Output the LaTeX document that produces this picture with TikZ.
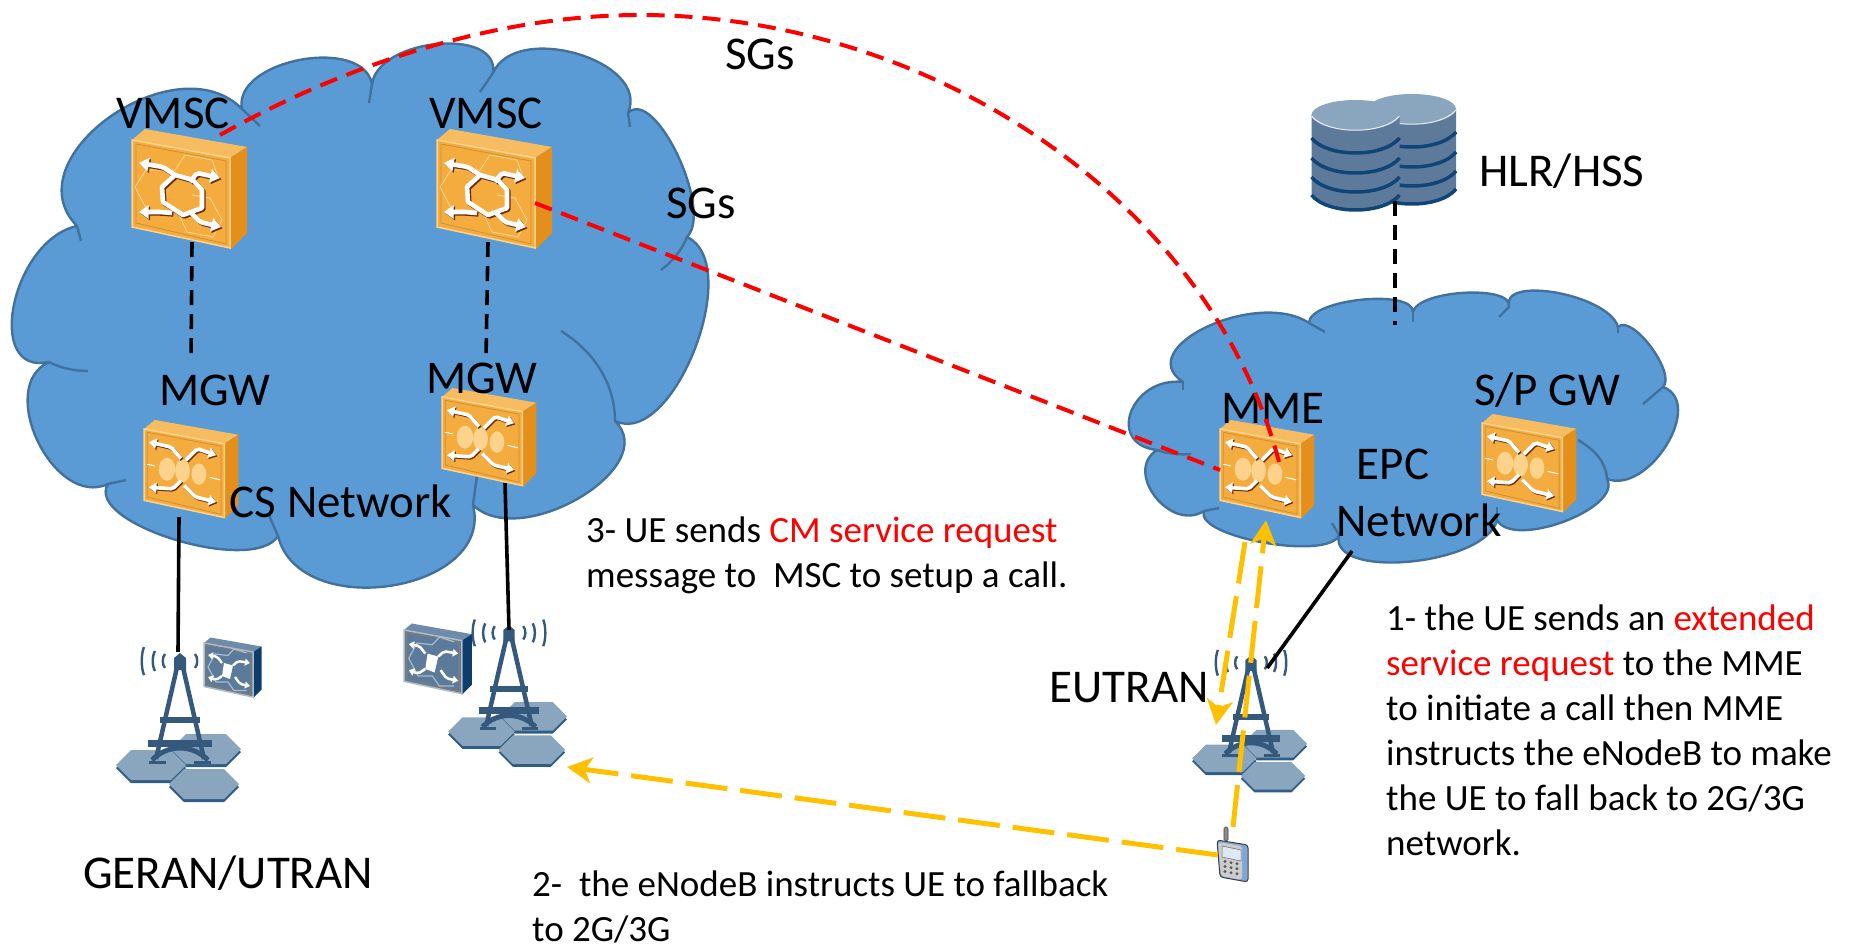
\documentclass[tikz,border=0pt]{standalone}
\usepackage{fontspec}
\setmainfont{Carlito}
\usetikzlibrary{arrows.meta,calc}

\definecolor{cloudfill}{HTML}{5B9BD5}
\definecolor{cloudline}{HTML}{41719C}
\definecolor{swfront}{HTML}{F5AC3F}
\definecolor{swtop}{HTML}{F8BC60}
\definecolor{swside}{HTML}{E48F1C}
\definecolor{swrim}{HTML}{FBD38D}
\definecolor{swframe}{HTML}{B97A2A}
\definecolor{swshadow}{HTML}{6B2A0C}
\definecolor{bluefront}{HTML}{5C7A99}
\definecolor{bluetop}{HTML}{6F8BA8}
\definecolor{blueside}{HTML}{0F3D6B}
\definecolor{bluerim}{HTML}{A9BCD0}
\definecolor{towerblue}{HTML}{34597D}
\definecolor{hexfill}{HTML}{8AA6BF}
\definecolor{hexedge}{HTML}{2F5C88}
\definecolor{dbside}{HTML}{5E7A9A}
\definecolor{dbband}{HTML}{0F4677}
\definecolor{linkyellow}{HTML}{FFC000}
\definecolor{phoneblue}{HTML}{7FA6D6}

\newcommand{\bump}[3]{.. controls ($(#1)+1.333*(#2)-0.667*(#1)-0.667*(#3)$) and ($(#3)+1.333*(#2)-0.667*(#1)-0.667*(#3)$) .. (#3)}

\newcommand{\swbody}[4]{
	\fill[#2] (0,0) -- (13,-11) -- (115,7) -- (98,18) -- cycle;
	\fill[#3] (98,18) -- (115,7) -- (115,93) -- (98,110) -- cycle;
	\fill[#1,draw=#4,line width=1.5pt] (0,0) -- (98,18) -- (98,108) -- (0,87) -- cycle;
	\draw[swframe!60!#1,line width=0.8pt] (4,4) -- (94,21) -- (94,104) -- (4,83) -- cycle;
}

\tikzset{
	sw_arrow/.style={-{Triangle[length=0pt 2.1,width=0pt 2.9]},rounded corners=2pt},
	vmsc_icon/.pic={
		\swbody{swfront}{swtop}{swside}{swrim}
		\draw[swrim,line width=0.9pt] (3,47) -- (14,30) -- (43,30) -- (53,15) -- (80,20) -- (86,37);
		\draw[swrim,line width=0.9pt] (3,47) -- (15,70) -- (30,70);
		\draw[swrim,line width=0.9pt] (48,77) -- (55,92) -- (81,97) -- (90,80) -- (78,58) -- (60,55);
		\foreach \col/\off in {swshadow/1.4,white/0} {
			\draw[\col,line join=round,shift={(\off,\off)}] (30,47) -- (43,35) -- (61,40) -- (70,50) -- (70,68) -- (51,75) -- (31,62) -- cycle;
			\draw[\col,sw_arrow,shift={(\off,\off)}] (43,35) -- (31,27) -- (7,23);
			\draw[\col,sw_arrow,shift={(\off,\off)}] (58,42) -- (65,33) -- (88,38);
			\draw[\col,sw_arrow,shift={(\off,\off)}] (40,73) -- (28,72) -- (7,72);
			\draw[\col,sw_arrow,shift={(\off,\off)}] (58,72) -- (68,82) -- (89,87);
		}
	},
	mgw_icon/.pic={
		\swbody{swfront}{swtop}{swside}{swrim}
		\fill[swrim] (28,49) ellipse [x radius=10,y radius=14];
		\fill[swrim] (47,51) ellipse [x radius=9,y radius=14];
		\fill[swrim] (67,55) ellipse [x radius=9,y radius=13];
		\foreach \col/\off in {swshadow/1.4,white/0} {
			\draw[\col,sw_arrow,shift={(\off,\off)}] (45,36) -- (33,22) -- (6,16);
			\draw[\col,sw_arrow,shift={(\off,\off)}] (51,38) -- (65,24) -- (88,32);
			\draw[\col,sw_arrow,shift={(\off,\off)}] (45,63) -- (35,73) -- (6,71);
			\draw[\col,sw_arrow,shift={(\off,\off)}] (49,69) -- (63,83) -- (88,89);
		}
		\draw[white,line width=1pt] (4,43) -- (13,45);
		\draw[white,line width=1pt] (80,59) -- (93,62);
	},
	blue_icon/.pic={
		\swbody{bluefront}{bluetop}{blueside}{bluerim}
		\draw[bluerim,line width=1.2pt] (8,48) -- (22,22) -- (48,25) -- (60,12) -- (85,20);
		\draw[bluerim,line width=1.2pt] (8,48) -- (24,78) -- (48,78) -- (60,95) -- (85,95);
		\fill[white] (40,40) -- (58,45) -- (52,72) -- (36,66) -- cycle;
		\draw[white,sw_arrow] (36,40) -- (26,27) -- (8,24);
		\draw[white,sw_arrow] (58,45) -- (68,36) -- (92,40);
		\draw[white,sw_arrow] (36,66) -- (24,74) -- (8,68);
		\draw[white,sw_arrow] (62,68) -- (72,82) -- (92,86);
	},
	tower_icon/.pic={
		\foreach \hx/\hy in {26/91,-29/107,24/126} {
			\fill[hexedge,shift={(\hx,\hy+3)}] (-35,0) -- (-20,-15) -- (20,-15) -- (35,0) -- (20,15) -- (-20,15) -- cycle;
			\fill[hexfill,shift={(\hx,\hy)}] (-35,0) -- (-20,-15) -- (20,-15) -- (35,0) -- (20,15) -- (-20,15) -- cycle;
		}
		\foreach \ax/\ah in {15/7,25/10,36/14} {
			\draw[towerblue,line width=2.4pt] (-\ax,3-\ah) .. controls (-\ax-3,3-\ah/2) and (-\ax-3,3+\ah/2) .. (-\ax,3+\ah);
			\draw[towerblue,line width=2.4pt] (\ax,3-\ah) .. controls (\ax+3,3-\ah/2) and (\ax+3,3+\ah/2) .. (\ax,3+\ah);
		}
		\fill[towerblue] (-6,0) -- (0,-5) -- (6,0) -- (6,12) -- (-6,12) -- cycle;
		\draw[towerblue,line width=4.5pt] (-2,5) -- (-24,101);
		\draw[towerblue,line width=4.5pt] (2,5) -- (24,101);
		\draw[towerblue,line width=6pt] (-20,62) -- (20,62);
		\draw[towerblue,line width=7pt] (-32,85) -- (32,85);
		\draw[towerblue,line width=5pt] (-28,102) .. controls (-12,86) and (12,86) .. (28,102);
		\draw[towerblue,line width=3pt] (-31,104) -- (-14,104);
		\draw[towerblue,line width=3pt] (14,104) -- (31,104);
	},
	db_icon/.pic={
		\fill[dbside] (-44,0) -- (-44,80) .. controls (-28,100) and (28,100) .. (44,80) -- (44,0) -- cycle;
		\foreach \s in {23,43,62,80} {
			\draw[dbband,line width=3.5pt] (-44,\s) .. controls (-28,\s+20) and (28,\s+20) .. (44,\s);
		}
		\fill[hexfill] (0,0) ellipse [x radius=44,y radius=15];
		\draw[white!80!hexfill,line width=1pt] (-44,1) .. controls (-28,20) and (28,20) .. (44,1);
	},
	phone_icon/.pic={
		\fill[black!45,draw=black!75,line width=0.6pt,rounded corners=1.5pt] (-9,-28) rectangle (-5,-14);
		\fill[phoneblue,draw=black!75,line width=1pt,rounded corners=3pt] (-16,-15) -- (15,-10) -- (15,27) -- (-13,22) -- cycle;
		\fill[black!20,rounded corners=3pt] (-15,-13) -- (9,-9) -- (9,25) -- (-12,21) -- cycle;
		\fill[white!75!phoneblue,draw=black!60,line width=0.5pt] (-11,-9) -- (8,-5) -- (8,6) -- (-11,2) -- cycle;
		\foreach \kx in {-8,-2,4} {
			\foreach \ky in {7,12,17} {
				\fill[black!65] (\kx,\ky+\kx*0.18+1) circle [radius=1.6];
			}
		}
	}
}

\begin{document}
\begin{tikzpicture}[x=1pt,y=-1pt,
	cloud_fill/.style={fill=cloudfill,draw=cloudline,line width=2.4pt,line join=round},
	cloud_crease/.style={draw=cloudline,line width=2.4pt},
	icon_node/.style={inner sep=0pt,minimum width=#1,minimum height=16pt},
	icon_node/.default=32pt,
	big_label/.style={inner sep=0pt,font=\fontsize{47}{47}\selectfont},
	note_text/.style={inner sep=0pt,anchor=west,align=left,font=\fontsize{37}{45}\selectfont},
	sw_big/.style={line width=4.6pt},
	sw_small/.style={scale=0.82,line width=3.6pt},
	black_dash/.style={black,line width=3.6pt,dash pattern=on 15pt off 9pt},
	black_link/.style={black,line width=3.6pt},
	red_dash/.style={red,line width=4pt,dash pattern=on 18pt off 10pt},
	yellow_link/.style={linkyellow,line width=5pt,dash pattern=on 42pt off 13pt,-{Stealth[length=25pt,width=26pt,inset=7pt]}}]

	\useasboundingbox (0,0) rectangle (1854,949);

	\fill[cloud_fill] (77,226) \bump{77,226}{110,117}{242,109} \bump{242,109}{300,60}{372,84} \bump{372,84}{438,44}{493,73}
		\bump{493,73}{578,54}{628,113} \bump{628,113}{678,155}{687,237} \bump{687,237}{695,350}{615,421}
		\bump{615,421}{580,498}{473,505} \bump{473,505}{392,586}{278,536} \bump{278,536}{175,540}{108,484}
		\bump{108,484}{38,442}{49,362} \bump{49,362}{14,305}{77,226} -- cycle;
	\draw[cloud_crease] (77,226) -- (81,241);
	\draw[cloud_crease] (242,109) -- (260,126);
	\draw[cloud_crease] (372,84) -- (369,103);
	\draw[cloud_crease] (493,73) -- (480,92);
	\draw[cloud_crease] (628,113) -- (630,127);
	\draw[cloud_crease] (687,237) .. controls (682,250) and (672,262) .. (661,270);
	\draw[cloud_crease] (615,421) .. controls (615,385) and (595,352) .. (561,331);
	\draw[cloud_crease] (473,505) -- (477,475);
	\draw[cloud_crease] (278,536) -- (268,513);
	\draw[cloud_crease] (108,484) -- (126,480);
	\draw[cloud_crease] (49,362) .. controls (60,368) and (75,371) .. (88,371);

	\fill[cloud_fill] (1183,382) \bump{1183,382}{1208,327}{1309,323} \bump{1309,323}{1362,300}{1413,312} \bump{1413,312}{1466,293}{1509,307}
		\bump{1509,307}{1558,293}{1618,327} \bump{1618,327}{1652,347}{1663,387} \bump{1663,387}{1668,445}{1607,479}
		\bump{1607,479}{1565,522}{1497,520} \bump{1497,520}{1411,562}{1339,535} \bump{1339,535}{1265,543}{1204,511}
		\bump{1204,511}{1156,497}{1157,450} \bump{1157,450}{1132,412}{1183,382} -- cycle;
	\draw[cloud_crease] (1309,323) -- (1325,332);
	\draw[cloud_crease] (1413,312) -- (1413,322);
	\draw[cloud_crease] (1509,307) -- (1499,317);
	\draw[cloud_crease] (1618,327) -- (1618,333);
	\draw[cloud_crease] (1663,387) -- (1643,404);
	\draw[cloud_crease] (1607,479) .. controls (1606,462) and (1595,450) .. (1578,440);
	\draw[cloud_crease] (1497,520) -- (1497,507);
	\draw[cloud_crease] (1339,535) -- (1332,523);
	\draw[cloud_crease] (1204,511) -- (1219,508);
	\draw[cloud_crease] (1157,450) .. controls (1168,454) and (1180,455) .. (1191,454);
	\draw[cloud_crease] (1183,382) -- (1183,390);

	\pic at (1412,109) {db_icon};
	\pic at (1355.5,115) {db_icon};
	\pic[sw_big] at (132,140) {vmsc_icon};
	\pic[sw_big] at (437,140) {vmsc_icon};
	\pic[sw_small] at (144,429) {mgw_icon};
	\pic[sw_small] at (442,397) {mgw_icon};
	\pic[sw_small] at (1220,429) {mgw_icon};
	\pic[sw_small] at (1482,423) {mgw_icon};
	\pic at (180,658) {tower_icon};
	\pic[scale=0.95] at (509,630) {tower_icon};
	\pic[scale=0.92] at (1251,660) {tower_icon};
	\pic[scale=0.5,line width=2.4pt] at (204,643) {blue_icon};
	\pic[scale=0.59,line width=2.6pt] at (404,630) {blue_icon};
	\pic at (1233,855) {phone_icon};

	\node[icon_node=96pt,minimum height=104pt] (vmsc1)   at (192,190) {};
	\node[icon_node=96pt,minimum height=104pt] (vmsc2)   at (488,190) {};
	\node[icon_node=80pt,minimum height=90pt] (mgw1)   at (179,472) {};
	\node[icon_node=80pt,minimum height=86pt] (mgw2)   at (505,440) {};
	\node[icon_node=80pt,minimum height=90pt] (mme)   at (1266,475) {};
	\node[icon_node=80pt,minimum height=90pt] (spgw)   at (1523,470) {};
	\node[icon_node=100pt,minimum height=22pt] (hss)   at (1395,190) {};
	\node[icon_node] (tower1)   at (178,660) {};
	\node[icon_node] (tower2)   at (509,638) {};
	\node[icon_node] (tower3)   at (1251,668) {};
	\node[icon_node=30pt,minimum height=56pt] (phone)   at (1233,855) {};

	\coordinate (vmsc1port) at (220,135);
	\coordinate (vmsc2port) at (535,203);
	\coordinate (mmeleft) at (1220,470);
	\coordinate (mmeright) at (1279,462);
	\coordinate (mgw1top) at (191,362);
	\coordinate (mgw2top) at (486,358);
	\coordinate (epctop) at (1395,325);
	\coordinate (epcfoot) at (1352,551);
	\coordinate (mmefoot) at (1245,542);
	\coordinate (enbtip) at (1216,725);
	\coordinate (hextip) at (567,767);

	\node[big_label] (vmsc1t)   at (173,113) {VMSC};
	\node[big_label] (vmsc2t)   at (486,113) {VMSC};
	\node[big_label] (mgw1t)   at (215,390) {MGW};
	\node[big_label] (mgw2t)   at (482,378) {MGW};
	\node[big_label] (cst)   at (341,501) {CS Network};
	\node[big_label] (sgs1t)   at (760,54) {SGs};
	\node[big_label] (sgs2t)   at (701,203) {SGs};
	\node[big_label] (hsst)   at (1562,171) {HLR/HSS};
	\node[big_label] (mmet)   at (1273,408) {MME};
	\node[big_label] (spgwt)   at (1547,390) {S/P GW};
	\node[big_label] (epct)   at (1393,464) {EPC};
	\node[big_label] (nett)   at (1419,520) {Network};
	\node[big_label] (eutrant)   at (1129,688) {EUTRAN};
	\node[big_label] (gerant)   at (228,873) {GERAN/UTRAN};

	\node[note_text] (note3)   at (586,555) {3- UE sends \textcolor{red}{CM service request}\\message to \ MSC to setup a call.};
	\node[note_text] (note1)   at (1386,730) {1- the UE sends an \textcolor{red}{extended}\\\textcolor{red}{service request} to the MME\\to initiate a call then MME\\instructs the eNodeB to make\\the UE to fall back to 2G/3G\\network.};
	\node[note_text] (note2)   at (532,907) {2- \ the eNodeB instructs UE to fallback\\to 2G/3G};

	\draw[black_dash] (vmsc1.south) -- (mgw1top);
	\draw[black_dash] (vmsc2.south) -- (mgw2top);
	\draw[black_dash] (hss.south) -- (epctop);
	\draw[black_link] (mgw1.south) -- (tower1.north);
	\draw[black_link] (mgw2.south) -- (tower2.north);
	\draw[black_link] (epcfoot) -- (tower3.east);

	\draw[red_dash] (vmsc1port) .. controls (350,62) and (500,15) .. (640,15) .. controls (930,15) and (1210,200) .. (mmeright);
	\draw[red_dash] (vmsc2port) -- (mmeleft);

	\draw[yellow_link] (phone.north) -- (mme.south);
	\draw[yellow_link] (mmefoot) -- (enbtip);
	\draw[yellow_link] (phone.west) -- (hextip);

\end{tikzpicture}
\end{document}
